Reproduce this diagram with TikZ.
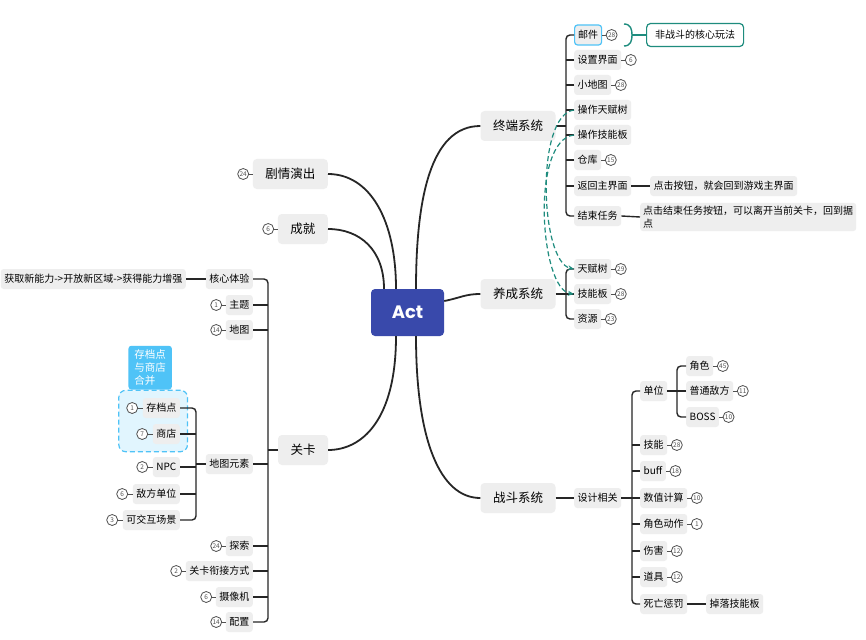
\documentclass[tikz,border=0pt]{standalone}
\usepackage{fontspec}
\setmainfont{Noto Sans CJK SC}
\newfontfamily\actfont{Poppins}
\usetikzlibrary{positioning,arrows.meta,fit,backgrounds}
\definecolor{nodegray}{HTML}{EEEEEE}
\definecolor{actblue}{HTML}{3949AB}
\definecolor{linec}{HTML}{262626}
\definecolor{tealc}{HTML}{1E8C7E}
\definecolor{lblue}{HTML}{4FC3F7}
\definecolor{lbluebg}{HTML}{E1F5FE}
\definecolor{badgec}{HTML}{505050}
\begin{document}
\begin{tikzpicture}[x=1pt,y=-1pt,
  sub/.style={fill=nodegray, rounded corners=3pt, inner xsep=3.5pt, inner ysep=0pt, minimum height=20pt, font=\fontsize{10}{12}\selectfont, text=black},
  mainn/.style={fill=nodegray, rounded corners=4pt, inner xsep=12.5pt, inner ysep=0pt, minimum height=30pt, font=\fontsize{12.5}{15}\selectfont, text=black},
  badge/.style={circle, draw=badgec, line width=0.8pt, fill=white, inner sep=0pt, minimum size=11pt, font=\fontsize{6.5}{7}\selectfont, text=badgec},
  branch/.style={draw=linec, line width=1.8pt},
  lnk/.style={draw=linec, line width=1.4pt},
  blnk/.style={draw=badgec, line width=0.9pt},
  trunk/.style={lnk, rounded corners=4pt},
  tealarrow/.style={draw=tealc, line width=1.2pt, dash pattern=on 5pt off 3pt, -{Stealth[length=6pt,width=5pt]}},
]
\useasboundingbox (0,0) rectangle (866,639);
\begin{scope}[on background layer]
\fill[white] (0,0) rectangle (866,639);
\end{scope}

% central
\node[fill=actblue, rounded corners=4pt, minimum width=73pt, minimum height=47pt, text=white, font=\actfont\bfseries\fontsize{18}{20}\selectfont] (act) at (407.5,312.5) {Act};

% level 1
\node[mainn] (zd) at (518,126) {终端系统};
\node[mainn] (yc) at (518,294) {养成系统};
\node[mainn, anchor=east] (jq) at (328,174) {剧情演出};
\node[mainn, anchor=east] (cj) at (328,229) {成就};
\node[mainn] (gk) at (303,450) {关卡};
\node[mainn] (zdxt) at (518,498) {战斗系统};

\node[badge, left=3.5pt of jq] (bjq) {24};
\draw[blnk] (jq.west) -- (bjq.east);
\node[badge, left=3.5pt of cj] (bcj) {6};
\draw[blnk] (cj.west) -- (bcj.east);

% main branches
\draw[branch] ([xshift=8.5pt]act.north) .. controls (416,200) and (430,126) .. (zd.west);
\draw[branch] ([xshift=-11.5pt]act.north) .. controls (396,220) and (370,174) .. (jq.east);
\draw[branch] ([xshift=-23.5pt]act.north) .. controls (384,250) and (360,229) .. (cj.east);
\draw[branch] ([yshift=11.5pt]act.east) .. controls (460,298) and (465,294) .. (yc.west);
\draw[branch] ([xshift=-11.5pt]act.south) .. controls (396,420) and (362,450) .. (gk.east);
\draw[branch] ([xshift=8.5pt]act.south) .. controls (416,440) and (440,498) .. (zdxt.west);

% ---------- 终端系统 ----------
\node[sub, anchor=west, draw=lblue, line width=1.2pt] (yj) at (574,35) {邮件};
\node[sub, anchor=west] (szjm) at (574,60) {设置界面};
\node[sub, anchor=west] (xdt) at (574,85) {小地图};
\node[sub, anchor=west] (cztfs) at (574,110) {操作天赋树};
\node[sub, anchor=west] (czjnb) at (574,135) {操作技能板};
\node[sub, anchor=west] (ck) at (574,160) {仓库};
\node[sub, anchor=west] (fhzjm) at (574,186) {返回主界面};
\node[sub, anchor=west] (jsrw) at (574,216) {结束任务};

\node[badge, right=3.5pt of yj] (byj) {28};
\draw[blnk] (yj.east) -- (byj.west);
\node[badge, right=3.5pt of szjm] (bszjm) {6};
\draw[blnk] (szjm.east) -- (bszjm.west);
\node[badge, right=3.5pt of xdt] (bxdt) {28};
\draw[blnk] (xdt.east) -- (bxdt.west);
\node[badge, right=3.5pt of ck] (bck) {15};
\draw[blnk] (ck.east) -- (bck.west);

\node[sub, anchor=west] (djan) at (650,186) {点击按钮，就会回到游戏主界面};
\draw[lnk] (fhzjm.east) -- (djan.west);
\node[sub, anchor=west, align=left, inner xsep=3pt, inner ysep=3pt, font=\fontsize{10}{13}\selectfont] (djjs) at (640,217) {点击结束任务按钮，可以离开当前关卡，回到据\\点};
\draw[lnk] (jsrw.east) -- (djjs.west);

\coordinate (tz) at (566,126);
\draw[lnk] (zd.east) -- (tz);
\draw[trunk] (yj.west) -| (tz) |- (jsrw.west);
\foreach \n in {szjm,xdt,cztfs,czjnb,ck,fhzjm} \draw[lnk] (\n.west) -- (\n.west -| tz);

% summary
\coordinate (brk) at (632,35);
\node[draw=tealc, line width=1.2pt, fill=white, rounded corners=4pt, inner xsep=8.5pt, inner ysep=0pt, minimum height=23pt, font=\fontsize{10}{12}\selectfont, anchor=west] (sum) at (646,35) {非战斗的核心玩法};
\draw[tealc, line width=1.4pt] (624,24) .. controls (631,24) and (632,30) .. (brk) .. controls (632,40) and (631,46) .. (624,46);
\draw[tealc, line width=1.2pt] (brk) -- (sum.west);

% ---------- 养成系统 ----------
\node[sub, anchor=west] (tfs) at (574,269) {天赋树};
\node[sub, anchor=west] (jnb) at (574,294) {技能板};
\node[sub, anchor=west] (zy) at (574,319) {资源};
\node[badge, right=3.5pt of tfs] (btfs) {29};
\draw[blnk] (tfs.east) -- (btfs.west);
\node[badge, right=3.5pt of jnb] (bjnb) {28};
\draw[blnk] (jnb.east) -- (bjnb.west);
\node[badge, right=3.5pt of zy] (bzy) {23};
\draw[blnk] (zy.east) -- (bzy.west);

\coordinate (ty) at (566,294);
\draw[lnk] (yc.east) -- (ty);
\draw[trunk] (tfs.west) -| (ty) |- (zy.west);
\draw[lnk] (jnb.west) -- (jnb.west -| ty);

% dashed relations
\draw[tealarrow] (cztfs.west) .. controls (535,115) and (540,262) .. (tfs.west);
\draw[tealarrow] (czjnb.west) .. controls (530,140) and (540,290) .. (jnb.west);

% ---------- 战斗系统 ----------
\node[sub, anchor=west] (sjxg) at (574,498) {设计相关};
\draw[lnk] (zdxt.east) -- (sjxg.west);

\node[sub, anchor=west] (dw) at (640,391) {单位};
\node[sub, anchor=west] (jn) at (640,445) {技能};
\node[sub, anchor=west] (buff) at (640,471) {buff};
\node[sub, anchor=west] (szjs) at (640,498) {数值计算};
\node[sub, anchor=west] (jsdz) at (640,524) {角色动作};
\node[sub, anchor=west] (sh) at (640,551) {伤害};
\node[sub, anchor=west] (dj) at (640,577) {道具};
\node[sub, anchor=west] (swcf) at (640,604) {死亡惩罚};
\node[sub, anchor=west] (dljnb) at (706,604) {掉落技能板};
\draw[lnk] (swcf.east) -- (dljnb.west);

\node[badge, right=3.5pt of jn] (bjn) {28};
\draw[blnk] (jn.east) -- (bjn.west);
\node[badge, right=3.5pt of buff] (bbuff) {18};
\draw[blnk] (buff.east) -- (bbuff.west);
\node[badge, right=3.5pt of szjs] (bszjs) {10};
\draw[blnk] (szjs.east) -- (bszjs.west);
\node[badge, right=3.5pt of jsdz] (bjsdz) {1};
\draw[blnk] (jsdz.east) -- (bjsdz.west);
\node[badge, right=3.5pt of sh] (bsh) {12};
\draw[blnk] (sh.east) -- (bsh.west);
\node[badge, right=3.5pt of dj] (bdj) {12};
\draw[blnk] (dj.east) -- (bdj.west);

\coordinate (tsj) at (632,498);
\draw[lnk] (sjxg.east) -- (tsj);
\draw[trunk] (dw.west) -| (tsj) |- (swcf.west);
\foreach \n in {jn,buff,szjs,jsdz,sh,dj} \draw[lnk] (\n.west) -- (\n.west -| tsj);

\node[sub, anchor=west] (js) at (686,366) {角色};
\node[sub, anchor=west] (ptdf) at (686,391) {普通敌方};
\node[sub, anchor=west] (boss) at (686,417) {BOSS};
\node[badge, right=3.5pt of js] (bjs) {45};
\draw[blnk] (js.east) -- (bjs.west);
\node[badge, right=3.5pt of ptdf] (bptdf) {11};
\draw[blnk] (ptdf.east) -- (bptdf.west);
\node[badge, right=3.5pt of boss] (bboss) {10};
\draw[blnk] (boss.east) -- (bboss.west);

\coordinate (tdw) at (677,391);
\draw[lnk] (dw.east) -- (tdw);
\draw[trunk] (js.west) -| (tdw) |- (boss.west);
\draw[lnk] (ptdf.west) -- (ptdf.west -| tdw);

% ---------- 关卡 ----------
\node[sub, anchor=east] (hxty) at (253,279) {核心体验};
\node[sub, anchor=east] (zt) at (253,305) {主题};
\node[sub, anchor=east] (dt) at (253,330) {地图};
\node[sub, anchor=east] (dtys) at (253,464) {地图元素};
\node[sub, anchor=east] (ts) at (253,546) {探索};
\node[sub, anchor=east] (gkxj) at (253,571) {关卡衔接方式};
\node[sub, anchor=east] (sxj) at (253,597) {摄像机};
\node[sub, anchor=east] (pz) at (253,622) {配置};

\node[sub, anchor=east] (hxnr) at (186,279) {获取新能力->开放新区域->获得能力增强};
\draw[lnk] (hxty.west) -- (hxnr.east);

\node[badge, left=3.5pt of zt] (bzt) {1};
\draw[blnk] (zt.west) -- (bzt.east);
\node[badge, left=3.5pt of dt] (bdt) {14};
\draw[blnk] (dt.west) -- (bdt.east);
\node[badge, left=3.5pt of ts] (bts) {24};
\draw[blnk] (ts.west) -- (bts.east);
\node[badge, left=3.5pt of gkxj] (bgkxj) {2};
\draw[blnk] (gkxj.west) -- (bgkxj.east);
\node[badge, left=3.5pt of sxj] (bsxj) {6};
\draw[blnk] (sxj.west) -- (bsxj.east);
\node[badge, left=3.5pt of pz] (bpz) {14};
\draw[blnk] (pz.west) -- (bpz.east);

\coordinate (tg) at (268,450);
\draw[lnk] (gk.west) -- (tg);
\draw[trunk] (hxty.east) -| (tg) |- (pz.east);
\foreach \n in {zt,dt,dtys,ts,gkxj,sxj} \draw[lnk] (\n.east) -- (\n.east -| tg);

% 地图元素 children
\node[sub, anchor=east] (cdd) at (180,408) {存档点};
\node[sub, anchor=east] (sd) at (180,434) {商店};
\node[sub, anchor=east] (npc) at (180,467) {NPC};
\node[sub, anchor=east] (dfdw) at (180,494) {敌方单位};
\node[sub, anchor=east] (kjh) at (180,520) {可交互场景};

\node[badge, left=4.5pt of cdd] (bcdd) {1};
\draw[blnk] (cdd.west) -- (bcdd.east);
\node[badge, left=4.5pt of sd] (bsd) {7};
\draw[blnk] (sd.west) -- (bsd.east);
\node[badge, left=4.5pt of npc] (bnpc) {2};
\draw[blnk] (npc.west) -- (bnpc.east);
\node[badge, left=4.5pt of dfdw] (bdfdw) {6};
\draw[blnk] (dfdw.west) -- (bdfdw.east);
\node[badge, left=4.5pt of kjh] (bkjh) {3};
\draw[blnk] (kjh.west) -- (bkjh.east);

\coordinate (tm) at (196,464);
\draw[lnk] (dtys.west) -- (tm);
\draw[trunk] (cdd.east) -| (tm) |- (kjh.east);
\foreach \n in {sd,npc,dfdw} \draw[lnk] (\n.east) -- (\n.east -| tm);

% boundary
\begin{scope}[on background layer]
\node[fit=(bcdd)(cdd)(bsd)(sd), inner xsep=7.5pt, inner ysep=7.5pt, draw=lblue, fill=lbluebg, line width=1.2pt, dash pattern=on 5pt off 3pt, rounded corners=7pt] (bnd) {};
\end{scope}
\node[fill=lblue, rounded corners=3pt, text=white, align=left, font=\fontsize{10.5}{13}\selectfont, inner xsep=6pt, inner ysep=4pt, anchor=south west] (tab) at ([xshift=10pt]bnd.north west) {存档点\\与商店\\合并};

\end{tikzpicture}
\end{document}
